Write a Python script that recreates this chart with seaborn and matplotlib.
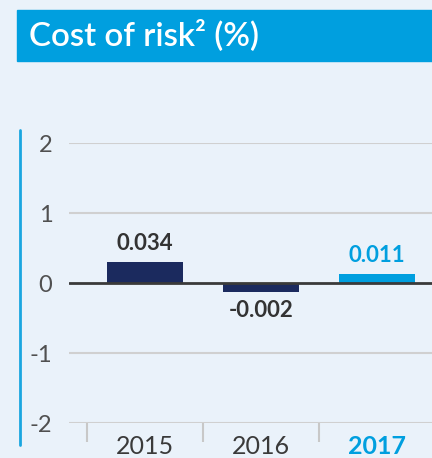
import matplotlib
matplotlib.use('Agg')
import matplotlib.pyplot as plt
import seaborn as sns
from matplotlib.patches import Rectangle
from matplotlib.lines import Line2D

years = ['2015', '2016', '2017']
bar_heights = [0.30, -0.125, 0.13]
value_labels = ['0.034', '-0.002', '0.011']
bar_colors = ['#1b2a5e', '#1b2a5e', '#009fdf']
label_colors = ['#333333', '#333333', '#009fdf']
y_ticks = [-2, -1, 0, 1, 2]

bg = '#eaf2fa'
blue = '#009fdf'

sns.set_theme(style='white')
plt.rcParams['font.family'] = ['Lato', 'DejaVu Sans']

fig = plt.figure(figsize=(4.32, 4.58), dpi=100, facecolor=bg)

# title band
fig.patches.append(Rectangle((17 / 432, 1 - 61 / 458), 1 - 17 / 432, 51 / 458,
                             transform=fig.transFigure, color=blue, zorder=0))
fig.text(29 / 432, 1 - 36 / 458, 'Cost of risk² (%)', color='white', fontsize=23.8,
         fontweight='semibold', va='center', ha='left')
# left accent line
fig.lines.append(Line2D([19.5 / 432, 19.5 / 432], [1 - 130 / 458, 1 - 445 / 458],
                        transform=fig.transFigure, color='#1aa6e0', lw=2))

ax = fig.add_axes([69 / 432, 35 / 458, 1 - 69 / 432, 280 / 458])
ax.set_facecolor(bg)

sns.barplot(x=years, y=bar_heights, hue=years, palette=bar_colors, width=0.655,
            legend=False, ax=ax, zorder=3, saturation=1, linewidth=0, edgecolor='none')

ax.set_xlim(-0.655, 2.474)
ax.set_ylim(-2, 2)
ax.set_yticks(y_ticks)
ax.set_yticklabels([str(t) for t in y_ticks], fontsize=17, color='#505050')
for t in y_ticks:
    if t != 0:
        ax.axhline(t, color='#d0d0d0', lw=1.5, zorder=1)
ax.axhline(0, color='#3a3a3a', lw=2, zorder=4)

for s in ax.spines.values():
    s.set_visible(False)

ax.tick_params(axis='y', length=0, pad=12)
ax.tick_params(axis='x', which='major', length=0, pad=9)
ax.set_xticks([-0.5, 0.5, 1.5], minor=True)
ax.tick_params(axis='x', which='minor', bottom=True, length=14, width=1.5,
               color='#c8c8c8', direction='out')

for lbl, c in zip(ax.get_xticklabels(), label_colors):
    lbl.set_fontsize(18)
    lbl.set_color(c if c != '#333333' else '#3a3a3a')
    if c == blue:
        lbl.set_fontweight('bold')

for i, (h, txt, c) in enumerate(zip(bar_heights, value_labels, label_colors)):
    off = 6 if h >= 0 else -6
    ax.annotate(txt, (i, h), xytext=(0, off), textcoords='offset points',
                ha='center', va='bottom' if h >= 0 else 'top',
                fontsize=16, fontweight='bold', color=c)

ax.set_xlabel('')
ax.set_ylabel('')

fig.savefig('out.png', dpi=100, facecolor=bg)
